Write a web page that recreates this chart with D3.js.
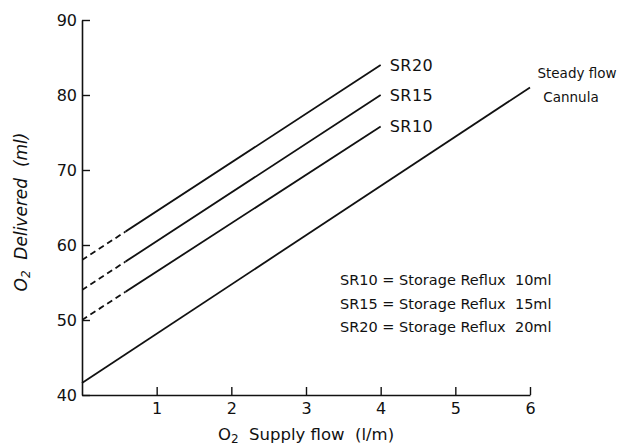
<!DOCTYPE html>
<html>
<head>
<meta charset="utf-8">
<script src="https://cdn.jsdelivr.net/npm/d3@7"></script>
<style>
  body { margin: 0; background: #fff; }
  svg { display: block; font-family: "DejaVu Sans", sans-serif; }
</style>
</head>
<body>
<div id="chart"></div>
<script>
// values
const xTicks = [1, 2, 3, 4, 5, 6];
const yTicks = [40, 50, 60, 70, 80, 90];
const seriesNames = ["SR20", "SR15", "SR10"];
const srFlow = [0, 4];
const sr20 = [58, 84];
const sr15 = [54, 80];
const sr10 = [50, 75.8];
const dashedUpTo = 0.58; // measured part is solid beyond this flow
const steadyFlow = [0, 6];
const steadyO2 = [41.6, 81];
const legendLines = [
  "SR10 = Storage Reflux  10ml",
  "SR15 = Storage Reflux  15ml",
  "SR20 = Storage Reflux  20ml"
];

const width = 626, height = 446;
const margin = { top: 20, right: 96, bottom: 51, left: 82 };

const svg = d3.select("#chart").append("svg")
  .attr("width", width)
  .attr("height", height);

const x = d3.scaleLinear().domain([0, 6]).range([margin.left, width - margin.right]);
const y = d3.scaleLinear().domain([40, 90]).range([height - margin.bottom, margin.top]);

const ink = "#111";

// Axes, ticks pointing inward
const yAxis = svg.append("g")
  .attr("transform", `translate(${margin.left},0)`)
  .call(d3.axisLeft(y).tickValues(yTicks).tickFormat(d3.format("d"))
    .tickSize(-8).tickPadding(5).tickSizeOuter(0));

const xAxis = svg.append("g")
  .attr("transform", `translate(0,${y(40)})`)
  .call(d3.axisBottom(x).tickValues(xTicks).tickFormat(d3.format("d"))
    .tickSize(-8).tickPadding(8).tickSizeOuter(0));

[xAxis, yAxis].forEach(g => {
  g.select(".domain").attr("stroke", ink).attr("stroke-width", 1.6);
  g.selectAll(".tick line").attr("stroke", ink).attr("stroke-width", 1.4);
  g.selectAll(".tick text")
    .attr("fill", ink)
    .style("font-size", "16px")
    .style("font-family", "'DejaVu Sans', sans-serif");
});

// Clip regions for dashed (extrapolated) and solid parts
const defs = svg.append("defs");
defs.append("clipPath").attr("id", "dashClip").append("rect")
  .attr("x", x(0)).attr("y", 0)
  .attr("width", x(dashedUpTo) - x(0)).attr("height", height);
defs.append("clipPath").attr("id", "solidClip").append("rect")
  .attr("x", x(dashedUpTo)).attr("y", 0)
  .attr("width", width - x(dashedUpTo)).attr("height", height);

const line = d3.line().x(d => x(d[0])).y(d => y(d[1]));

const srData = [sr20, sr15, sr10].map((vals, i) => ({
  name: seriesNames[i],
  points: srFlow.map((f, j) => [f, vals[j]])
}));

srData.forEach(s => {
  svg.append("path")
    .attr("d", line(s.points))
    .attr("fill", "none")
    .attr("stroke", ink)
    .attr("stroke-width", 1.8)
    .attr("stroke-dasharray", "6,4")
    .attr("clip-path", "url(#dashClip)");

  svg.append("path")
    .attr("d", line(s.points))
    .attr("fill", "none")
    .attr("stroke", ink)
    .attr("stroke-width", 1.8)
    .attr("clip-path", "url(#solidClip)");

  const last = s.points[s.points.length - 1];
  svg.append("text")
    .attr("x", x(last[0]) + 9)
    .attr("y", y(last[1]))
    .attr("dy", "0.36em")
    .attr("fill", ink)
    .style("font-size", "16px")
    .style("letter-spacing", "0.5px")
    .text(s.name);
});

// Steady flow cannula line
const steady = steadyFlow.map((f, i) => [f, steadyO2[i]]);
svg.append("path")
  .attr("d", line(steady))
  .attr("fill", "none")
  .attr("stroke", ink)
  .attr("stroke-width", 1.8);

const sEnd = steady[steady.length - 1];
svg.append("text")
  .attr("x", x(sEnd[0]) + 47)
  .attr("y", y(sEnd[1]) - 14)
  .attr("dy", "0.36em")
  .attr("text-anchor", "middle")
  .attr("fill", ink)
  .style("font-size", "13.5px")
  .text("Steady flow");
svg.append("text")
  .attr("x", x(sEnd[0]) + 41)
  .attr("y", y(sEnd[1]) + 10)
  .attr("dy", "0.36em")
  .attr("text-anchor", "middle")
  .attr("fill", ink)
  .style("font-size", "13.5px")
  .text("Cannula");

// Key
svg.append("g")
  .selectAll("text")
  .data(legendLines)
  .join("text")
  .attr("x", 340)
  .attr("y", (d, i) => 280 + i * 23.5)
  .attr("dy", "0.36em")
  .attr("fill", ink)
  .style("font-size", "14.5px")
  .style("white-space", "pre")
  .text(d => d);

// Axis titles
const xTitle = svg.append("text")
  .attr("x", (x(0) + x(6)) / 2)
  .attr("y", 440)
  .attr("text-anchor", "middle")
  .attr("fill", ink)
  .style("font-size", "16.5px")
  .style("white-space", "pre");
xTitle.append("tspan").text("O");
xTitle.append("tspan").attr("baseline-shift", "-25%").style("font-size", "12px").text("2");
xTitle.append("tspan").text("  Supply flow  (l/m)");

const yTitle = svg.append("text")
  .attr("transform", `translate(27,212) rotate(-90)`)
  .attr("text-anchor", "middle")
  .attr("fill", ink)
  .style("font-size", "17px")
  .style("font-style", "italic")
  .style("white-space", "pre");
yTitle.append("tspan").text("O");
yTitle.append("tspan").attr("baseline-shift", "-25%").style("font-size", "12px").text("2");
yTitle.append("tspan").text("  Delivered  (ml)");
</script>
</body>
</html>
